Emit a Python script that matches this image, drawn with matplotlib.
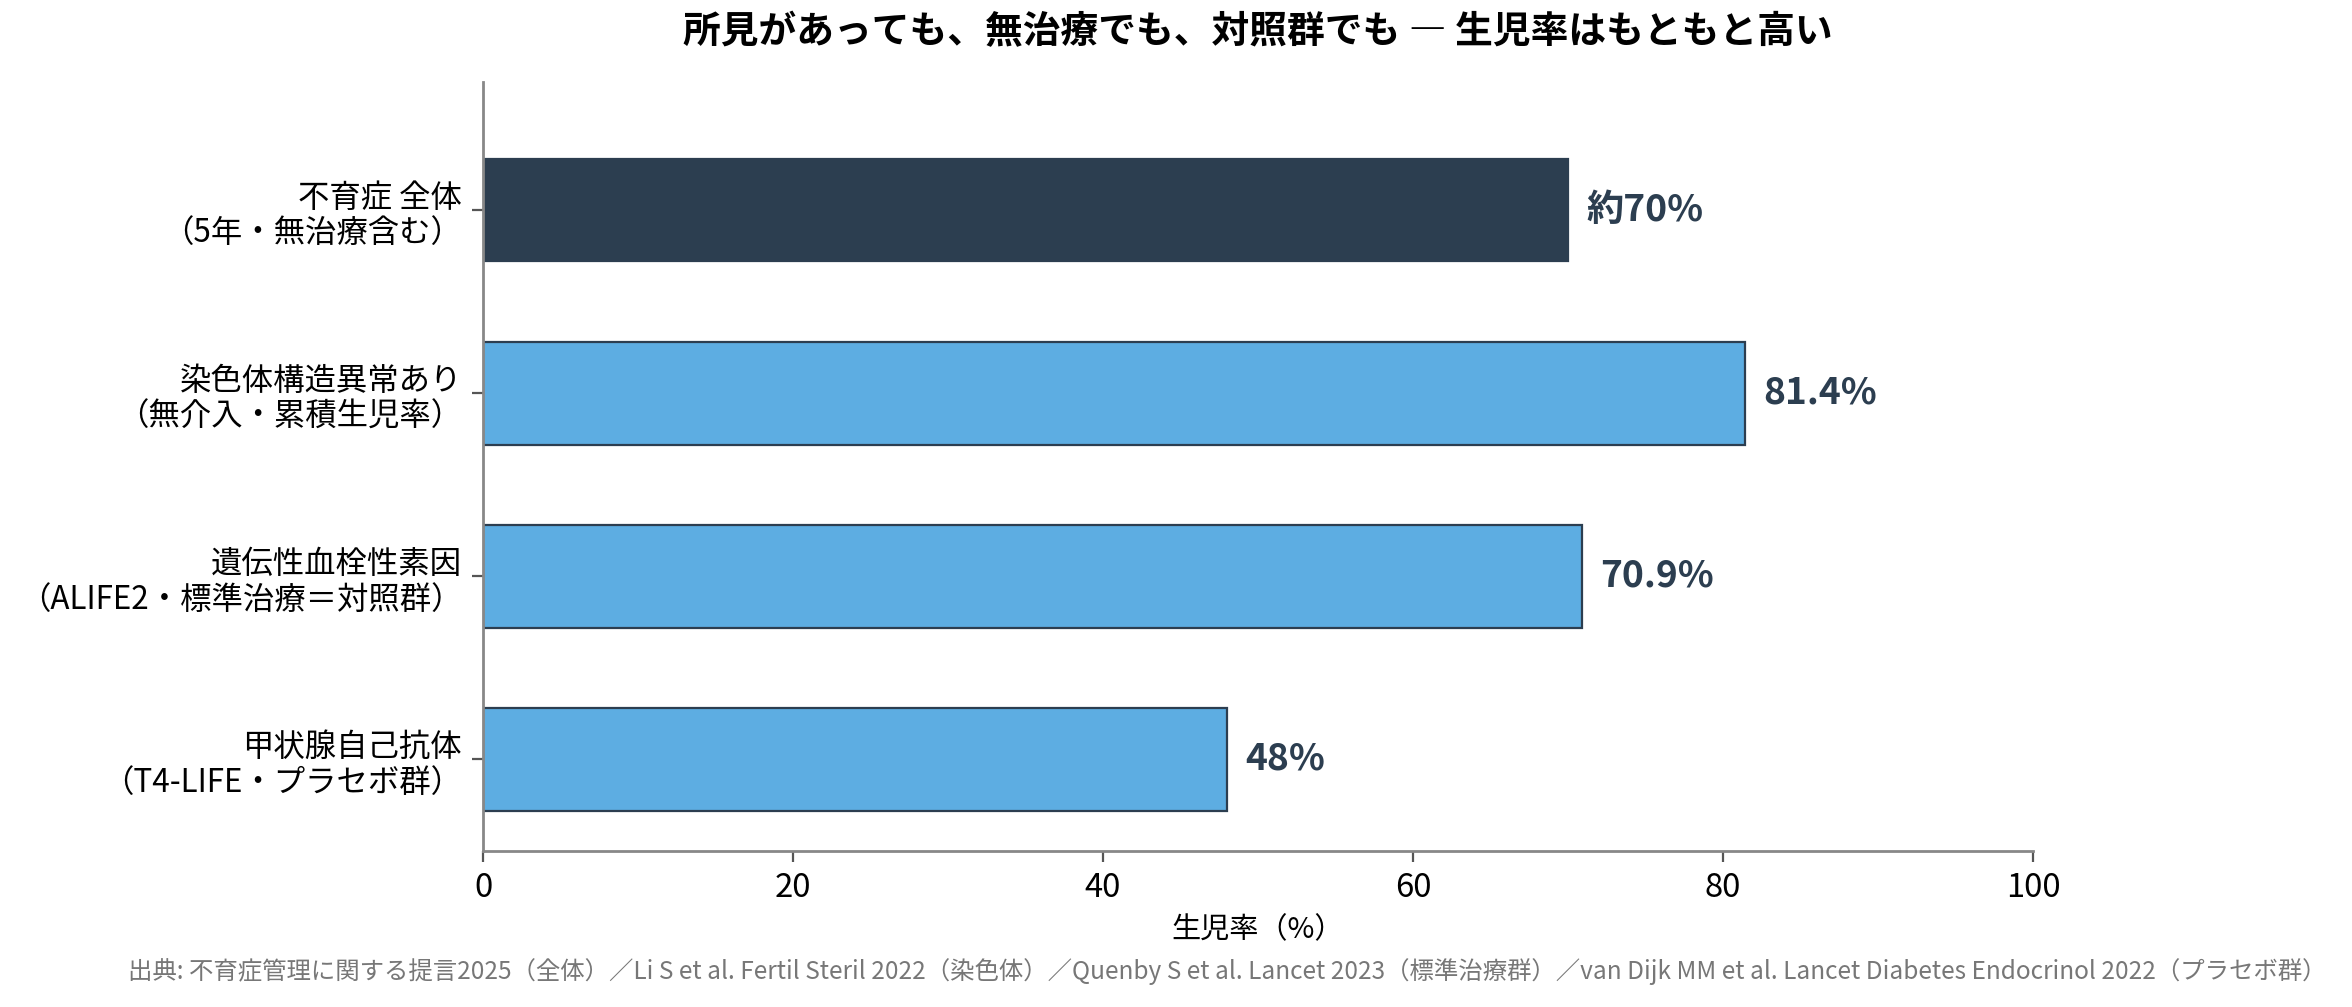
import matplotlib.pyplot as plt

plt.rcParams['font.family'] = ['Noto Sans CJK JP', 'DejaVu Sans']

# data
labels = ['不育症 全体\n（5年・無治療含む）',
          '染色体構造異常あり\n（無介入・累積生児率）',
          '遺伝性血栓性素因\n（ALIFE2・標準治療＝対照群）',
          '甲状腺自己抗体\n（T4-LIFE・プラセボ群）']
values = [70, 81.4, 70.9, 48]
value_texts = ['約70%', '81.4%', '70.9%', '48%']
colors = ['#2c3e50', '#5dade2', '#5dade2', '#5dade2']

title = '所見があっても、無治療でも、対照群でも ― 生児率はもともと高い'
source = ('出典: 不育症管理に関する提言2025（全体）／Li S et al. Fertil Steril 2022（染色体）'
          '／Quenby S et al. Lancet 2023（標準治療群）'
          '／van Dijk MM et al. Lancet Diabetes Endocrinol 2022（プラセボ群）')

fig = plt.figure(figsize=(11.76, 5.035), dpi=200)
ax = fig.add_axes([483 / 2352, 1 - 851 / 1007, (2033 - 483) / 2352, (851 - 82) / 1007])

y = list(range(len(values)))
ax.barh(y, values, height=0.56, color=colors, edgecolor='#2c3e50', linewidth=0.8)

for yi, v, t in zip(y, values, value_texts):
    ax.text(v + 1.2, yi, t, va='center', ha='left', fontsize=13.4,
            fontweight='bold', color='#2c3e50')

ax.set_ylim(3.5, -0.7)
ax.set_xlim(0, 100)
ax.set_yticks(y)
ax.set_yticklabels(labels, fontsize=11.3, linespacing=1.15)
ax.set_xticks([0, 20, 40, 60, 80, 100])
ax.tick_params(axis='x', labelsize=11.8, color='#555555', length=4)
ax.tick_params(axis='y', color='#555555', length=4)
ax.set_xlabel('生児率（%）', fontsize=10.5, labelpad=4)

for s in ['top', 'right']:
    ax.spines[s].set_visible(False)
for s in ['left', 'bottom']:
    ax.spines[s].set_color('#888888')
    ax.spines[s].set_linewidth(1.0)

ax.set_title(title, fontsize=13.6, fontweight='bold', pad=14)
fig.text(0.5217, 1 - 972 / 1007, source, ha='center', va='center',
         fontsize=8.8, color='#777777')

fig.savefig('out.png', dpi=200)
